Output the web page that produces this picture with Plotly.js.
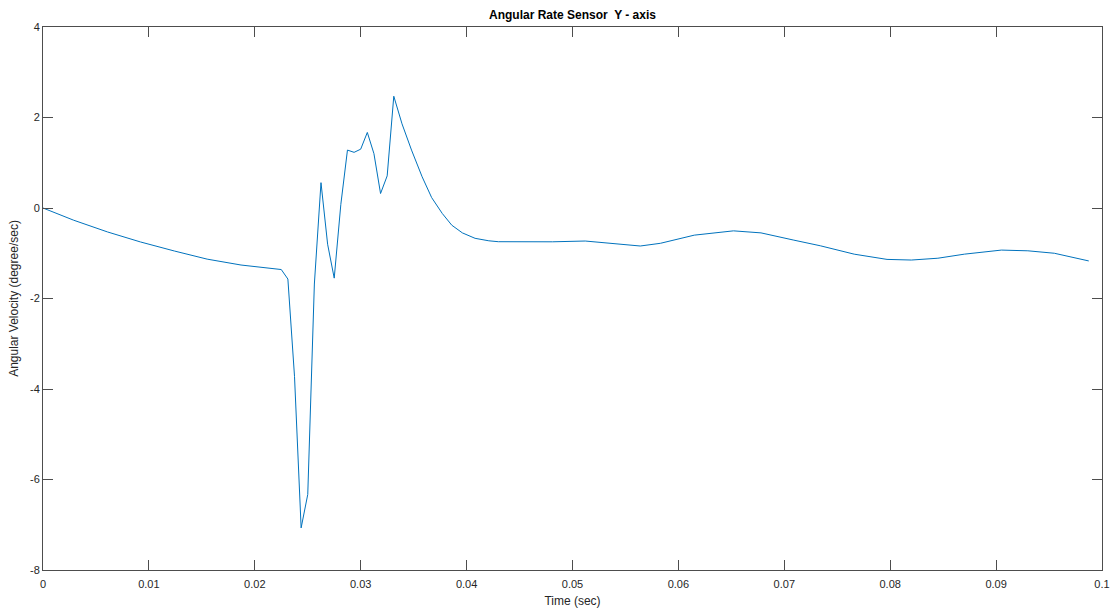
<!DOCTYPE html>
<html>
<head>
<meta charset="utf-8">
<script src="https://cdn.plot.ly/plotly-3.0.1.min.js"></script>
<style>html,body{margin:0;padding:0;background:#fff;}#chart{width:1115px;height:610px;}</style>
</head>
<body>
<div id="chart"></div>
<script>
// Time (sec) values
const timeSec = [
  0, 0.0029, 0.0061, 0.0092, 0.0124, 0.0155, 0.0187, 0.0218, 0.0225,
  0.023125, 0.02375, 0.024375, 0.025, 0.025625, 0.02625, 0.026875, 0.0275,
  0.028125, 0.02875, 0.029375, 0.03, 0.030625, 0.03125, 0.031875, 0.0325,
  0.033125, 0.0339, 0.0348, 0.0358, 0.0367, 0.0377, 0.0386, 0.0396, 0.0408,
  0.0421, 0.0430, 0.0449, 0.0481, 0.0512, 0.0536, 0.0564, 0.0583, 0.0615,
  0.0652, 0.0678, 0.0709, 0.0734, 0.0766, 0.0797, 0.0820, 0.0845, 0.0870,
  0.0905, 0.0930, 0.0955, 0.09875
];
// Angular velocity (degree/sec) values
const angVel = [
  0.0, -0.27, -0.53, -0.75, -0.95, -1.13, -1.26, -1.33, -1.36,
  -1.57, -3.72, -7.07, -6.33, -1.68, 0.56, -0.80, -1.55,
  0.08, 1.28, 1.23, 1.30, 1.67, 1.20, 0.32, 0.71,
  2.47, 1.86, 1.28, 0.69, 0.23, -0.12, -0.38, -0.55, -0.67,
  -0.725, -0.745, -0.745, -0.747, -0.73, -0.78, -0.84, -0.78, -0.60,
  -0.505, -0.55, -0.71, -0.835, -1.02, -1.136, -1.15, -1.11, -1.02,
  -0.93, -0.946, -1.0, -1.17
];
const xTickVals = [0, 0.01, 0.02, 0.03, 0.04, 0.05, 0.06, 0.07, 0.08, 0.09, 0.1];
const xTickText = ["0", "0.01", "0.02", "0.03", "0.04", "0.05", "0.06", "0.07", "0.08", "0.09", "0.1"];
const yTickVals = [-8, -6, -4, -2, 0, 2, 4];
const yTickText = ["-8", "-6", "-4", "-2", "0", "2", "4"];

const axisColor = '#4d4d4d';
const fontFam = 'Liberation Sans, Arial, Helvetica, sans-serif';

const trace = {
  x: timeSec, y: angVel, type: 'scatter', mode: 'lines',
  line: {color: '#0072BD', width: 1}, hoverinfo: 'x+y'
};

const layout = {
  width: 1115, height: 610,
  margin: {l: 43, r: 13, t: 27, b: 40, pad: 0},
  paper_bgcolor: '#fff', plot_bgcolor: '#fff',
  showlegend: false,
  font: {family: fontFam, size: 11, color: '#262626'},
  title: {
    text: '<b>Angular Rate Sensor  Y - axis</b>',
    font: {family: fontFam, size: 12, color: '#000'},
    x: 0.5, xref: 'paper', xanchor: 'center',
    y: 1, yref: 'paper', yanchor: 'bottom', pad: {b: 8}
  },
  xaxis: {
    range: [0, 0.1], tickmode: 'array', tickvals: xTickVals, ticktext: xTickText,
    ticks: 'inside', ticklen: 10, tickwidth: 1, tickcolor: axisColor,
    showline: true, linecolor: axisColor, linewidth: 1, mirror: 'ticks',
    showgrid: false, zeroline: false, ticklabelstandoff: 4,
    tickfont: {family: fontFam, size: 11, color: '#262626'},
    title: {text: 'Time (sec)', font: {family: fontFam, size: 12, color: '#262626'}, standoff: 7}
  },
  yaxis: {
    range: [-8, 4], tickmode: 'array', tickvals: yTickVals, ticktext: yTickText,
    ticks: 'inside', ticklen: 10, tickwidth: 1, tickcolor: axisColor,
    showline: true, linecolor: axisColor, linewidth: 1, mirror: 'ticks',
    showgrid: false, zeroline: false,
    tickfont: {family: fontFam, size: 11, color: '#262626'},
    title: {text: 'Angular Velocity (degree/sec)', font: {family: fontFam, size: 12, color: '#262626'}, standoff: 8}
  }
};

Plotly.newPlot('chart', [trace], layout, {displayModeBar: false, staticPlot: true});
</script>
</body>
</html>
